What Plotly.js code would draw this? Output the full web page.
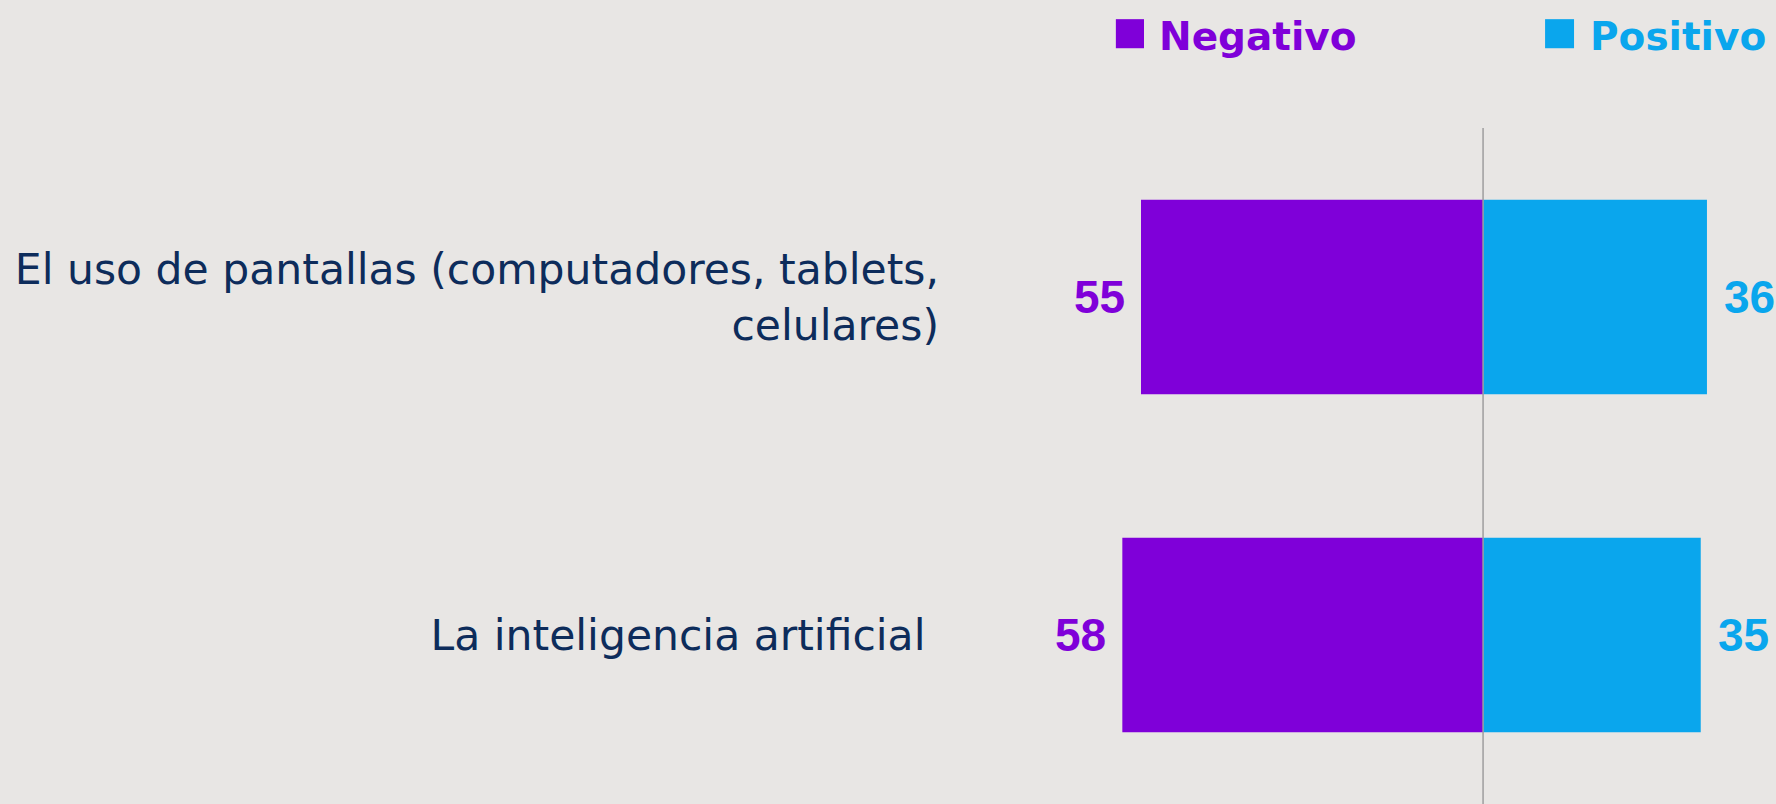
<!DOCTYPE html>
<html>
<head>
<meta charset="utf-8">
<script src="https://cdn.plot.ly/plotly-3.0.1.min.js"></script>
<style>
  html, body { margin: 0; padding: 0; background: #e8e6e4; }
  #chart { width: 1776px; height: 804px; }
</style>
</head>
<body>
<div id="chart"></div>
<script>
// Data
const categories = [
  "El uso de pantallas (computadores, tablets,<br>celulares)",
  "La inteligencia artificial\u00a0"
];
const negativo = [55, 58];
const positivo = [36, 35];
const seriesNames = ["Negativo", "Positivo"];

const purple = "#7f00d9";
const blue = "#0aa6ed";
const navy = "#0d2c5b";

const traces = [
  {
    type: "bar", orientation: "h", name: seriesNames[0],
    y: categories, x: negativo.map(v => -v),
    marker: { color: purple }, width: 0.575,
    showlegend: false, hoverinfo: "skip"
  },
  {
    type: "bar", orientation: "h", name: seriesNames[1],
    y: categories, x: positivo,
    marker: { color: blue }, width: 0.575,
    showlegend: false, hoverinfo: "skip"
  }
];

const valueFont = { family: "Liberation Sans, Arial, sans-serif", size: 46, weight: 700 };
const annotations = [];
categories.forEach((c, i) => {
  annotations.push({
    x: -negativo[i], y: c, xref: "x", yref: "y", text: String(negativo[i]),
    showarrow: false, xanchor: "right", yanchor: "middle", xshift: -14,
    font: Object.assign({ color: purple }, valueFont)
  });
  annotations.push({
    x: positivo[i], y: c, xref: "x", yref: "y", text: String(positivo[i]),
    showarrow: false, xanchor: "left", yanchor: "middle", xshift: 15,
    font: Object.assign({ color: blue }, valueFont)
  });
});

// Legend (custom, top right)
const legendFont = { family: "DejaVu Sans, sans-serif", size: 39, weight: 700 };
annotations.push({
  xref: "paper", yref: "paper", x: 0.2415, y: 1.136, text: seriesNames[0],
  showarrow: false, xanchor: "left", yanchor: "middle",
  font: Object.assign({ color: purple }, legendFont)
});
annotations.push({
  xref: "paper", yref: "paper", x: 0.7695, y: 1.136, text: seriesNames[1],
  showarrow: false, xanchor: "left", yanchor: "middle",
  font: Object.assign({ color: blue }, legendFont)
});

const shapes = [
  { type: "rect", xref: "paper", yref: "paper", x0: 0.191, x1: 0.2255, y0: 1.118, y1: 1.161,
    fillcolor: purple, line: { width: 0 } },
  { type: "rect", xref: "paper", yref: "paper", x0: 0.717, x1: 0.7525, y0: 1.118, y1: 1.161,
    fillcolor: blue, line: { width: 0 } },
  { type: "line", xref: "x", yref: "paper", x0: 0, x1: 0, y0: 0, y1: 1,
    line: { color: "#9e9e9e", width: 1.5 }, layer: "above" }
];

const layout = {
  width: 1776, height: 804,
  paper_bgcolor: "#e8e6e4", plot_bgcolor: "#e8e6e4",
  margin: { l: 960, r: 0, t: 128, b: 0 },
  barmode: "relative",
  xaxis: {
    range: [-84.1, 47.1], showgrid: false, zeroline: false,
    showticklabels: false, fixedrange: true
  },
  yaxis: {
    autorange: "reversed", showgrid: false, zeroline: false,
    ticks: "", ticklabelstandoff: 20,
    tickfont: { family: "DejaVu Sans, sans-serif", size: 42.5, color: navy },
    automargin: false
  },
  annotations: annotations,
  shapes: shapes,
  showlegend: false
};

Plotly.newPlot("chart", traces, layout, { staticPlot: true, displayModeBar: false });
</script>
</body>
</html>
